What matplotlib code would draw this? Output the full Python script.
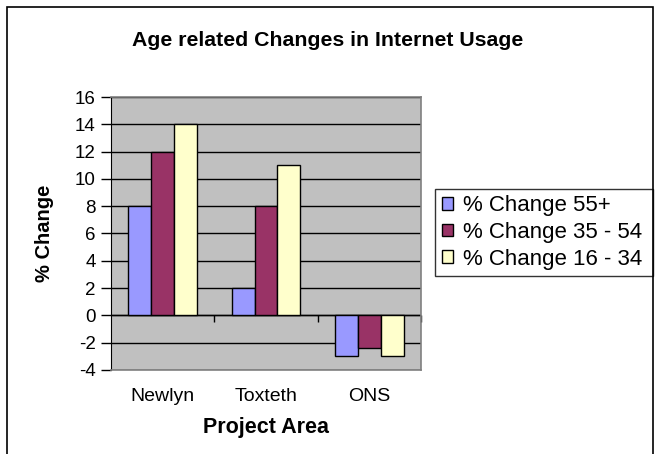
import numpy as np
from matplotlib import pyplot as plt
from matplotlib.patches import Rectangle

categories = ["Newlyn", "Toxteth", "ONS"]
series_names = ["% Change 55+", "% Change 35 - 54", "% Change 16 - 34"]
change_55 = [8, 2, -3]
change_35 = [12, 8, -2.4]
change_16 = [14, 11, -3]
yticks = list(range(-4, 17, 2))

colors = ["#9999FF", "#993366", "#FFFFCC"]

plt.rcParams["font.family"] = ["Liberation Sans", "DejaVu Sans"]
plt.rcParams["axes.unicode_minus"] = False

fig = plt.figure(figsize=(6.55, 4.54), dpi=100)

# outer chart frame (bottom edge runs off the picture)
fig.add_artist(Rectangle((7 / 655, -0.05), 646 / 655, 1.05 - 7 / 454,
                         transform=fig.transFigure, fill=False,
                         edgecolor="black", linewidth=1.2))

ax = fig.add_axes([111 / 655, 1 - 370 / 454, 310 / 655, 273 / 454])
ax.set_facecolor("#C0C0C0")

x = np.arange(len(categories))
width = 1 / 4.5
for i, vals in enumerate([change_55, change_35, change_16]):
    ax.bar(x + (i - 1) * width, vals, width, color=colors[i],
           edgecolor="black", linewidth=1, label=series_names[i], zorder=3)

ax.set_xlim(-0.5, len(categories) - 0.5)
ax.set_ylim(-4, 16)
ax.set_yticks(yticks)
ax.yaxis.grid(True, color="black", linewidth=1, zorder=1)
ax.set_axisbelow(True)
ax.axhline(0, color="black", linewidth=1, zorder=2)

for side in ["top", "right", "bottom"]:
    ax.spines[side].set_color("#808080")
    ax.spines[side].set_linewidth(1.2)
ax.spines["left"].set_color("black")

ax.tick_params(axis="y", length=7, width=1, labelsize=13.5, pad=4)
ax.set_xticks(x)
ax.set_xticklabels(categories)
ax.tick_params(axis="x", length=0, labelsize=14, pad=13)

# category boundary ticks on the zero line
sec = ax.secondary_xaxis(4 / 20)
sec.set_xticks(list(x + 0.5))
sec.set_xticklabels([])
sec.tick_params(length=5, width=1, direction="out")
sec.spines["bottom"].set_visible(False)

ax.set_ylabel("% Change", fontsize=14.5, fontweight="bold")
ax.yaxis.set_label_coords((45 - 111) / 310, 0.5)
ax.yaxis.label.set_va("center")
ax.set_xlabel("Project Area", fontsize=15.5, fontweight="bold")
ax.xaxis.set_label_coords(0.5, (370 - 428) / 273)
ax.xaxis.label.set_va("center")

fig.text(0.5, 1 - 40 / 454, "Age related Changes in Internet Usage",
         ha="center", va="center", fontsize=15.3, fontweight="bold")

leg = ax.legend(loc="center left", bbox_to_anchor=(435 / 655, 1 - 278 / 454, 218 / 655, 91 / 454),
                bbox_transform=fig.transFigure, mode="expand", fontsize=16,
                frameon=True, fancybox=False, edgecolor="black",
                handlelength=0.5, handleheight=0.5, handletextpad=0.45,
                borderaxespad=0, labelspacing=0.25, borderpad=0.3)
leg.get_frame().set_linewidth(1)

fig.savefig("out.png", dpi=100)
